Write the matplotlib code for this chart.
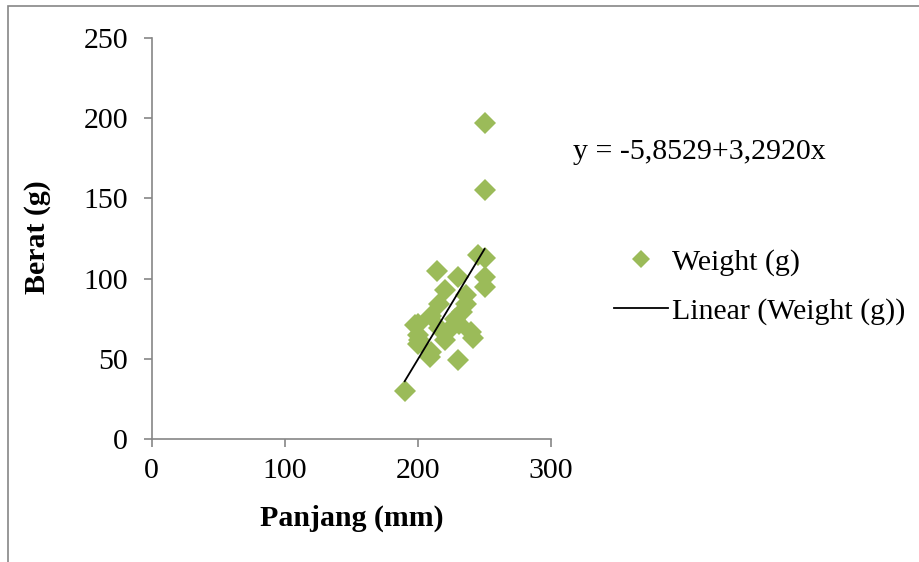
import matplotlib.pyplot as plt
from matplotlib.patches import Rectangle

plt.rcParams['font.family'] = ['Liberation Serif', 'DejaVu Serif']

# panjang (mm) dan berat (g)
panjang = [190, 250, 250, 245, 250, 214, 230, 250, 250, 220,
           236, 216, 236, 228, 210, 200, 201, 200, 210, 209,
           230, 240, 241, 220, 216, 231, 225, 233, 198, 200]
berat = [30, 197, 155, 115, 113, 105, 101, 101, 95, 93,
         90, 84, 84, 75, 77, 72, 62, 59, 54, 51,
         49, 67, 63, 62, 69, 72, 69, 79, 71, 65]

# ujung garis trend seperti di grafik
trend_x = [190, 250]
trend_y = [36, 118.5]

eq_text = 'y = -5,8529+3,2920x'
green = '#9BBB59'
grey = '#868686'
fs = 21.5

fig = plt.figure(figsize=(9.2, 5.62), dpi=100)
ax = fig.add_axes([0.165, 0.219, 0.434, 0.713])

ax.plot(panjang, berat, 'D', color=green, markersize=11, markeredgewidth=0,
        label='Weight (g)', zorder=2)
ax.plot(trend_x, trend_y, color='black', linewidth=1.3,
        label='Linear (Weight (g))', zorder=3)

ax.set_xlim(0, 300)
ax.set_ylim(0, 250)
ax.set_xticks([0, 100, 200, 300])
ax.set_yticks([0, 50, 100, 150, 200, 250])
for s in ['top', 'right']:
    ax.spines[s].set_visible(False)
for s in ['left', 'bottom']:
    ax.spines[s].set_color(grey)
    ax.spines[s].set_linewidth(1.2)
ax.tick_params(axis='both', colors=grey, labelcolor='black', labelsize=fs,
               length=6, width=1.2, direction='out')
ax.tick_params(axis='y', pad=11)
ax.tick_params(axis='x', pad=8)

ax.set_xlabel('Panjang (mm)', fontsize=fs, fontweight='bold', va='center')
ax.set_ylabel('Berat (g)', fontsize=fs, fontweight='bold', va='center')
ax.xaxis.set_label_coords(0.501, -0.197)
ax.yaxis.set_label_coords(-0.286, 0.504)

fig.text(573 / 920, 1 - 152 / 562, eq_text, fontsize=fs, va='center', ha='left')

fig.legend(loc='center left', bbox_to_anchor=(614 / 920, 1 - 287 / 562),
           frameon=False, fontsize=fs, handlelength=1.8, handletextpad=0.15,
           labelspacing=0.72, markerscale=0.8, borderpad=0, borderaxespad=0)

fig.add_artist(Rectangle((8 / 920, -0.05), 1.2, 1 - 6 / 562 + 0.05,
                         transform=fig.transFigure, fill=False,
                         edgecolor=grey, linewidth=1.2))

fig.savefig('out.png', dpi=100)
